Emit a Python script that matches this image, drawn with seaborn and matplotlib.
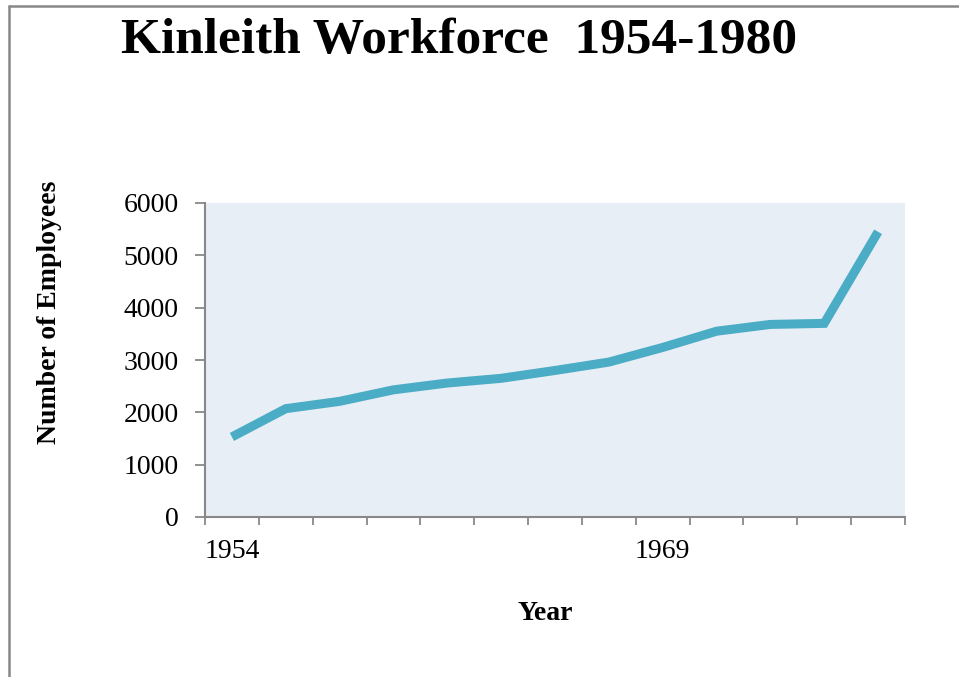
import matplotlib
matplotlib.use("Agg")
import matplotlib.pyplot as plt
import seaborn as sns
import numpy as np
import pandas as pd
from matplotlib.lines import Line2D

# ---- data ----
categories = ["1954", "", "", "", "", "", "", "", "1969", "", "", "", ""]
employees = [1530, 2070, 2210, 2430, 2560, 2650, 2800, 2960, 3240, 3550, 3680, 3700, 5450]
y_ticks = [0, 1000, 2000, 3000, 4000, 5000, 6000]
title_text = "Kinleith Workforce  1954-1980"
x_label = "Year"
y_label = "Number of Employees"

sns.set_theme(style="white")
plt.rcParams['font.family'] = ['Liberation Serif', 'DejaVu Serif']

df = pd.DataFrame({"pos": np.arange(len(employees)), "employees": employees})

W, H = 959, 677
fig = plt.figure(figsize=(W/100, H/100), dpi=100)
ax = fig.add_axes([205/W, 1-517/H, (905-205)/W, (517-203)/H])
ax.set_facecolor("#E8EEF5")

sns.lineplot(data=df, x="pos", y="employees", ax=ax, color="#4BACC6",
             linewidth=6.5, solid_capstyle="butt", solid_joinstyle="miter")

n = len(employees)
ax.set_xlim(-0.5, n - 0.5)
ax.set_ylim(0, 6000)
ax.set_yticks(y_ticks)
ax.set_yticklabels([str(v) for v in y_ticks], fontsize=20, color="black")

label_pos = [i for i, c in enumerate(categories) if c]
ax.set_xticks(label_pos)
ax.set_xticklabels([categories[i] for i in label_pos], fontsize=20, color="black")
ax.set_xticks(np.arange(-0.5, n, 1.0), minor=True)
ax.tick_params(axis="x", which="major", length=0, pad=16)
ax.tick_params(axis="x", which="minor", length=6, width=1.3, color="#888888", direction="out", bottom=True)
ax.tick_params(axis="y", which="major", length=7, width=1.3, color="#888888", direction="out", left=True, pad=12)

for s in ["top", "right"]:
    ax.spines[s].set_visible(False)
for s in ["left", "bottom"]:
    ax.spines[s].set_color("#888888")
    ax.spines[s].set_linewidth(1.5)

ax.set_xlabel(x_label, fontsize=20, fontweight="bold", color="black")
ax.set_ylabel(y_label, fontsize=20, fontweight="bold", color="black")
ax_x0, ax_x1, ax_y0, ax_y1 = 205, 905, 517, 203
ax.xaxis.set_label_coords((545 - ax_x0)/(ax_x1 - ax_x0), (ax_y0 - 613)/(ax_y0 - ax_y1))
ax.xaxis.label.set_va("center")
ax.yaxis.set_label_coords((50 - ax_x0)/(ax_x1 - ax_x0), (ax_y0 - 312)/(ax_y0 - ax_y1))
ax.yaxis.label.set_va("center")

fig.text(459/W, 1-41/H, title_text, fontsize=37, fontweight="bold", ha="center", va="center", color="black")

# figure border (left and top)
fig.add_artist(Line2D([8.5/W, 8.5/W], [0, 1-6/H], transform=fig.transFigure, color="#888888", linewidth=1.8))
fig.add_artist(Line2D([8.5/W, 1], [1-6/H, 1-6/H], transform=fig.transFigure, color="#888888", linewidth=1.8))

fig.savefig("out.png", dpi=100, facecolor="white")
